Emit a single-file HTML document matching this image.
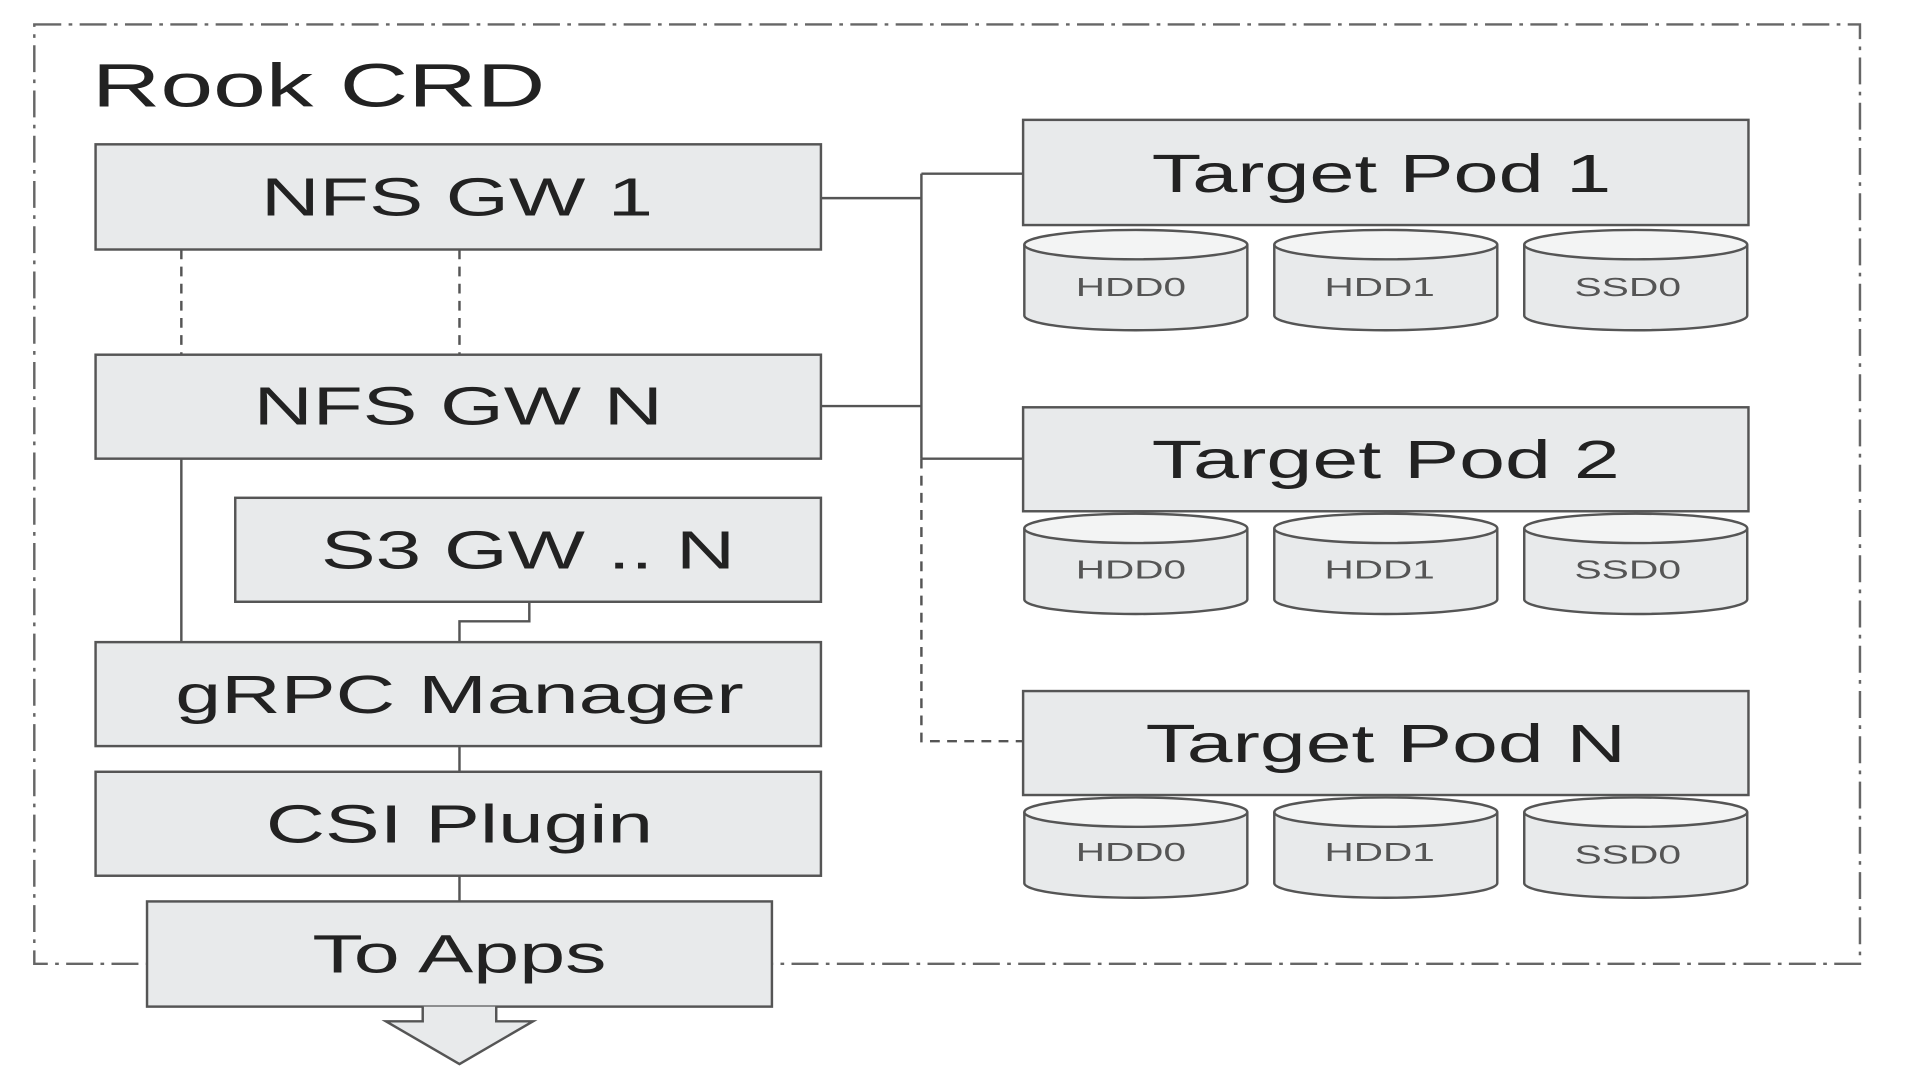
<!DOCTYPE html>
<html><head><style>html,body{margin:0;padding:0;background:#fff;width:1920px;height:1080px;overflow:hidden}</style></head>
<body>
<svg width="1920" height="1080" viewBox="0 0 1567 883" preserveAspectRatio="none" xmlns="http://www.w3.org/2000/svg" font-family="Liberation Sans, sans-serif">
<rect x="28" y="20" width="1490" height="768" fill="none" stroke="#666" stroke-width="2" stroke-dasharray="22,6,3,6"/>
<text x="75" y="87" font-size="50" fill="#222" textLength="370" lengthAdjust="spacingAndGlyphs">Rook CRD</text>
<g stroke="#555" stroke-width="2" fill="none">
<path d="M670 162H752M752 142V375M752 142H835M670 332H752M752 375H835"/>
<path d="M752 375V606H835M148 204V290M375 204V290" stroke-dasharray="8,6"/>
<path d="M148 375V525M432 492V508H375V525M375 610V631M375 716V737"/>
</g>
<g fill="#e8eaeb" stroke="#555" stroke-width="2">
<rect x="78" y="118" width="592" height="86"/>
<rect x="78" y="290" width="592" height="85"/>
<rect x="192" y="407" width="478" height="85"/>
<rect x="78" y="525" width="592" height="85"/>
<rect x="78" y="631" width="592" height="85"/>
<rect x="120" y="737" width="510" height="86"/>
<path d="M345 823V835H315L375 870L435 835H405V823"/>
<rect x="835" y="98" width="592" height="86"/>
<rect x="835" y="333" width="592" height="85"/>
<rect x="835" y="565" width="592" height="85"/>
</g>
<g font-size="44" fill="#222" lengthAdjust="spacingAndGlyphs">
<text x="213" y="176" textLength="320" lengthAdjust="spacingAndGlyphs">NFS GW 1</text>
<text x="207" y="347" textLength="334" lengthAdjust="spacingAndGlyphs">NFS GW N</text>
<text x="262" y="465" textLength="338" lengthAdjust="spacingAndGlyphs">S3 GW .. N</text>
<text x="143" y="583" textLength="464" lengthAdjust="spacingAndGlyphs">gRPC Manager</text>
<text x="217" y="689" textLength="316" lengthAdjust="spacingAndGlyphs">CSI Plugin</text>
<text x="255" y="795" textLength="240" lengthAdjust="spacingAndGlyphs">To Apps</text>
<text x="940" y="157" textLength="375" lengthAdjust="spacingAndGlyphs">Target Pod 1</text>
<text x="940" y="391" textLength="382" lengthAdjust="spacingAndGlyphs">Target Pod 2</text>
<text x="935" y="623" textLength="392" lengthAdjust="spacingAndGlyphs">Target Pod N</text>
</g>
<defs>
<g id="cyl"><path d="M0 12V70A91 12 0 0 0 182 70V12" fill="#e8eaeb" stroke="#555" stroke-width="2"/><ellipse cx="91" cy="12" rx="91" ry="12" fill="#f3f4f4" stroke="#555" stroke-width="2"/></g>
</defs>
<use href="#cyl" x="836" y="188"/><use href="#cyl" x="1040" y="188"/><use href="#cyl" x="1244" y="188"/>
<use href="#cyl" x="836" y="420"/><use href="#cyl" x="1040" y="420"/><use href="#cyl" x="1244" y="420"/>
<use href="#cyl" x="836" y="652"/><use href="#cyl" x="1040" y="652"/><use href="#cyl" x="1244" y="652"/>
<g font-size="21" fill="#555">
<text x="878" y="242" textLength="90" lengthAdjust="spacingAndGlyphs">HDD0</text><text x="1081" y="242" textLength="90" lengthAdjust="spacingAndGlyphs">HDD1</text><text x="1285" y="242" textLength="87" lengthAdjust="spacingAndGlyphs">SSD0</text>
<text x="878" y="473" textLength="90" lengthAdjust="spacingAndGlyphs">HDD0</text><text x="1081" y="473" textLength="90" lengthAdjust="spacingAndGlyphs">HDD1</text><text x="1285" y="473" textLength="87" lengthAdjust="spacingAndGlyphs">SSD0</text>
<text x="878" y="704" textLength="90" lengthAdjust="spacingAndGlyphs">HDD0</text><text x="1081" y="704" textLength="90" lengthAdjust="spacingAndGlyphs">HDD1</text><text x="1285" y="706" textLength="87" lengthAdjust="spacingAndGlyphs">SSD0</text>
</g>
</svg>
</body></html>
